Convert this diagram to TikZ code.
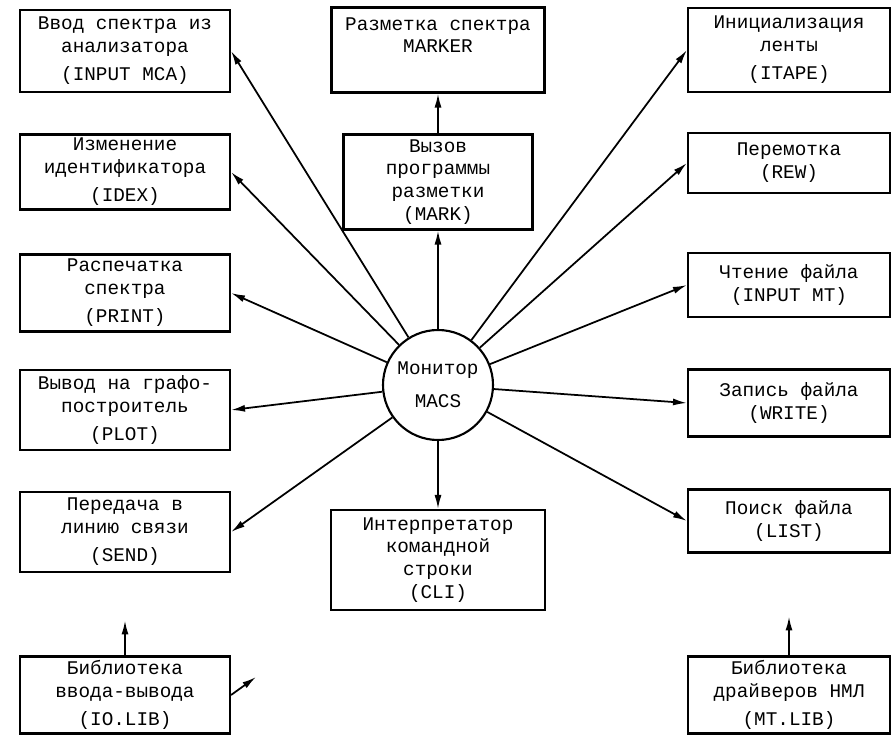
\documentclass[tikz,border=0pt]{standalone}
\usepackage{fontspec}
\setmainfont{Liberation Mono}
\usetikzlibrary{positioning,arrows.meta}

\begin{document}
\begin{tikzpicture}[>={Latex[length=2.8mm,width=1.4mm]},line width=1pt,on grid,
	prog/.style={draw,line width=1.2pt,align=center,inner sep=1pt,font=\fontsize{11}{13}\selectfont},
	progl/.style={prog,minimum width=4.2cm},
	progr/.style={prog,minimum width=4.04cm}]
	\useasboundingbox (-8.76,-7.02) rectangle (9.12,7.7);
	\node[circle,draw,line width=1.2pt,minimum size=2.2cm,align=center,font=\fontsize{11}{13}\selectfont] (mon) {Монитор\\[6pt]MACS};
	% centre column
	\node[prog,minimum width=3.78cm,minimum height=1.9cm] (mark) [above=4.06cm of mon] {Вызов\\программы\\разметки\\(MARK)};
	\node[prog,minimum width=4.26cm,minimum height=1.7cm] (marker) [above=2.64cm of mark] {Разметка спектра\\MARKER\\\strut};
	\node[prog,minimum width=4.28cm,minimum height=2cm] (cli) [below=3.5cm of mon] {Интерпретатор\\командной\\строки\\(CLI)};
	% left column
	\node[progl,minimum height=1.64cm] (mca) [above left=6.68cm and 6.26cm of mon] {Ввод спектра из\\анализатора\\[3pt](INPUT MCA)};
	\node[progl,minimum height=1.5cm] (idex) [below=2.42cm of mca] {Изменение\\идентификатора\\[3pt](IDEX)};
	\node[progl,minimum height=1.54cm] (prn) [below=2.42cm of idex] {Распечатка\\спектра\\[3pt](PRINT)};
	\node[progl,minimum height=1.6cm] (graf) [below=2.34cm of prn] {Вывод на графо-\\построитель\\[3pt](PLOT)};
	\node[progl,minimum height=1.6cm] (send) [below=2.44cm of graf] {Передача в\\линию связи\\[3pt](SEND)};
	\node[progl,minimum height=1.54cm] (iolib) [below=3.26cm of send] {Библиотека\\ввода-вывода\\[3pt](IO.LIB)};
	% right column
	\node[progr,minimum height=1.68cm] (itape) [above right=6.7cm and 7.02cm of mon] {Инициализация\\ленты\\[3pt](ITAPE)};
	\node[progr,minimum height=1.2cm] (rew) [below=2.26cm of itape] {Перемотка\\(REW)};
	\node[progr,minimum height=1.28cm] (inmt) [below=2.44cm of rew] {Чтение файла\\(INPUT MT)};
	\node[progr,minimum height=1.34cm] (wrt) [below=2.36cm of inmt] {Запись файла\\(WRITE)};
	\node[progr,minimum height=1.26cm] (lst) [below=2.36cm of wrt] {Поиск файла\\(LIST)};
	\node[progr,minimum height=1.54cm] (mtlib) [below=3.48cm of lst] {Библиотека\\драйверов НМЛ\\[3pt](MT.LIB)};
	\coordinate[above=0.7cm of iolib.north] (iotop);
	\coordinate[above right=0.36cm and 0.5cm of iolib.east] (iodiag);
	\coordinate[above=0.78cm of mtlib.north] (mttop);
	\path[->]
	(mon) edge (mca.east) edge (idex.east) edge (prn.east) edge (graf.east) edge (send.east)
	edge (mark) edge (cli)
	edge (itape.west) edge (rew.west) edge (inmt.west) edge (wrt.west) edge (lst.west);
	\draw[->] (mark) -- (marker);
	\draw[->] (iolib) -- (iotop);
	\draw[->] (iolib.east) -- (iodiag);
	\draw[->] (mtlib) -- (mttop);
\end{tikzpicture}
\end{document}
